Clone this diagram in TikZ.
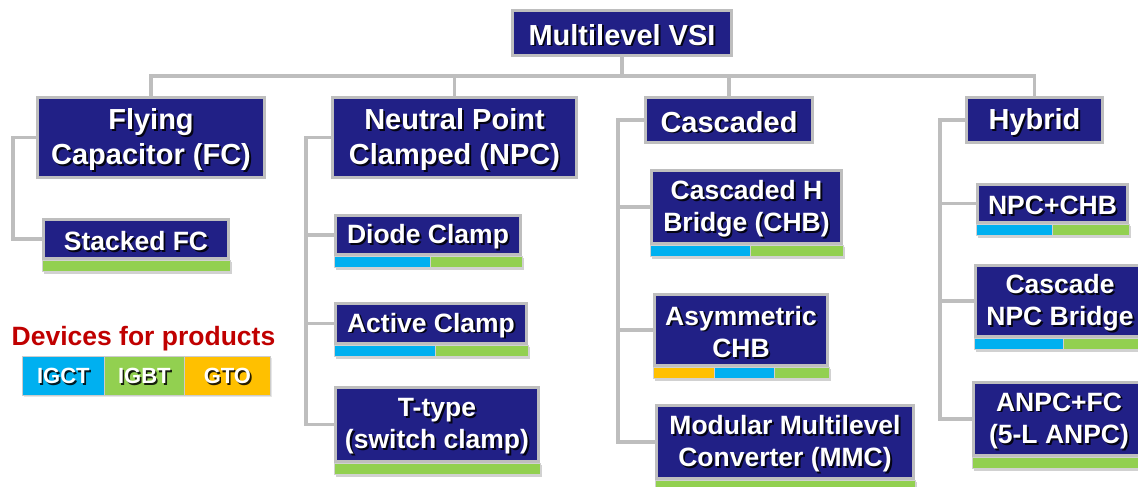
\documentclass[tikz,border=0pt]{standalone}
\usepackage{fontspec}
\setmainfont{Liberation Sans}
\usetikzlibrary{calc,shadows}
\definecolor{boxblue}{RGB}{33,32,134}
\definecolor{frame}{RGB}{190,190,190}
\definecolor{igct}{RGB}{0,176,240}
\definecolor{igbt}{RGB}{146,208,80}
\definecolor{gto}{RGB}{255,192,0}
\definecolor{headred}{RGB}{192,0,0}
\pgfdeclarelayer{background}
\pgfsetlayers{background,main}
\tikzset{
  tbox/.style={draw=frame, line width=2.6pt, fill=boxblue, inner sep=0pt,
    drop shadow={opacity=0.25, shadow xshift=1.5pt, shadow yshift=-1.5pt}},
  txt/.style={align=center, inner sep=0pt},
  big/.style={font=\fontsize{29}{35}\selectfont\bfseries},
  small/.style={font=\fontsize{26.5}{32.5}\selectfont\bfseries},
  legend/.style={font=\fontsize{22}{26}\selectfont\bfseries},
  conn/.style={draw=frame, line width=3.4pt},
  segline/.style={draw=white!82!black, line width=0.6pt},
}
% box with white shadowed text: name, left, top, width, height, text style, text
\newcommand\catbox[7]{%
  \node[tbox, minimum width=#4-2.6, minimum height=#5-2.6, anchor=north west] (#1) at (#2,#3) {};
  \node[txt, #6, text=black, opacity=0.85] at ($(#1.center)+(1.9,3.6)$) {#7};
  \node[txt, #6, text=white] at ($(#1.center)+(0,1.8)$) {#7};}
% device strip segment under a box: node, start fraction, end fraction, colour
\newcommand\devseg[4]{%
  \fill[#4, segline] ($(#1.south west)!#2!(#1.south east)$) rectangle ($(#1.south west)!#3!(#1.south east)+(0,11)$);}
\newcommand\segshadow[1]{%
  \fill[black, opacity=0.18] ($(#1.south west)+(2,2)$) rectangle ($(#1.south east)+(2,13.5)$);}
% legend cell: name, left, top, width, colour, text
\newcommand\legcell[6]{%
  \node[fill=#5, draw=white!80!black, line width=0.8pt, minimum width=#4, minimum height=39, inner sep=0pt,
        anchor=north west, drop shadow={opacity=0.2, shadow xshift=1.5pt, shadow yshift=-1.5pt}] (#1) at (#2,#3) {};
  \node[txt, legend, text=black, opacity=0.85] at ($(#1.center)+(1.6,1.8)$) {#6};
  \node[txt, legend, text=white] at (#1.center) {#6};}

\begin{document}
\begin{tikzpicture}[x=1pt, y=-1pt]
\useasboundingbox (0,0) rectangle (1138,487);
\clip (0,0) rectangle (1138,487);

% root
\catbox{vsi}{511}{9}{222}{48}{big}{Multilevel VSI}

% topology families
\catbox{fc}{36}{96}{230}{83}{big}{Flying\\Capacitor (FC)}
\catbox{npc}{331}{96}{247}{83}{big}{Neutral Point\\Clamped (NPC)}
\catbox{cas}{644}{96}{170}{48}{big}{Cascaded}
\catbox{hyb}{965}{96}{139}{48}{big}{Hybrid}

% variants
\catbox{sfc}{42}{218}{188}{42}{small}{Stacked FC}
\catbox{diode}{334}{214}{188}{42}{small}{Diode Clamp}
\catbox{active}{334}{302}{194}{43}{small}{Active Clamp}
\catbox{ttype}{334}{386}{206}{77}{small}{T-type\\(switch clamp)}
\catbox{chb}{650}{169}{193}{76}{small}{Cascaded H\\Bridge (CHB)}
\catbox{asym}{653}{293}{176}{74}{small}{Asymmetric\\CHB}
\catbox{mmc}{655}{404}{260}{76}{small}{Modular Multilevel\\Converter (MMC)}
\catbox{npcchb}{976}{183}{153}{41}{small}{NPC+CHB}
\catbox{cnpc}{974}{264}{172}{74}{small}{Cascade\\NPC Bridge}
\catbox{anpc}{972}{381}{174}{76}{small}{ANPC+FC\\(5-L ANPC)}

% device strips
\segshadow{sfc}\devseg{sfc}{0}{1}{igbt}
\segshadow{diode}\devseg{diode}{0}{0.51}{igct}\devseg{diode}{0.51}{1}{igbt}
\segshadow{active}\devseg{active}{0}{0.52}{igct}\devseg{active}{0.52}{1}{igbt}
\segshadow{ttype}\devseg{ttype}{0}{1}{igbt}
\segshadow{chb}\devseg{chb}{0}{0.52}{igct}\devseg{chb}{0.52}{1}{igbt}
\segshadow{asym}\devseg{asym}{0}{0.35}{gto}\devseg{asym}{0.35}{0.69}{igct}\devseg{asym}{0.69}{1}{igbt}
\segshadow{mmc}\devseg{mmc}{0}{1}{igbt}
\segshadow{npcchb}\devseg{npcchb}{0}{0.5}{igct}\devseg{npcchb}{0.5}{1}{igbt}
\segshadow{cnpc}\devseg{cnpc}{0}{0.52}{igct}\devseg{cnpc}{0.52}{1}{igbt}
\segshadow{anpc}\devseg{anpc}{0}{1}{igbt}

% legend
\node[txt, font=\fontsize{26.5}{30}\selectfont\bfseries, text=headred, anchor=base] (devtitle) at (143.5,345) {Devices for products};
\legcell{ligct}{22}{356}{82}{igct}{IGCT}
\legcell{ligbt}{104}{356}{80}{igbt}{IGBT}
\legcell{lgto}{184}{356}{86}{gto}{GTO}

% connectors
\begin{pgfonlayer}{background}
  \coordinate (bus) at (622,76);
  \coordinate (fcrail) at (13,0);
  \coordinate (npcrail) at (306,0);
  \coordinate (casrail) at (618,0);
  \coordinate (hybrail) at (940,0);
  \draw[conn] (vsi.south) -- (bus);
  \draw[conn] (fc.north) |- (bus) -| (hyb.north);
  \draw[conn] (npc.north) -- (npc.north |- bus);
  \draw[conn] (cas.north) -- (cas.north |- bus);
  \draw[conn] (fc.west) -- (fc.west -| fcrail) |- (sfc.west);
  \draw[conn] (npc.west) -- (npc.west -| npcrail) |- (ttype.west);
  \draw[conn] (diode.west) -- (diode.west -| npcrail);
  \draw[conn] (active.west) -- (active.west -| npcrail);
  \draw[conn] (cas.west) -- (cas.west -| casrail) |- (mmc.west);
  \draw[conn] (chb.west) -- (chb.west -| casrail);
  \draw[conn] (asym.west) -- (asym.west -| casrail);
  \draw[conn] (hyb.west) -- (hyb.west -| hybrail) |- (anpc.west);
  \draw[conn] (npcchb.west) -- (npcchb.west -| hybrail);
  \draw[conn] (cnpc.west) -- (cnpc.west -| hybrail);
\end{pgfonlayer}
\end{tikzpicture}
\end{document}
